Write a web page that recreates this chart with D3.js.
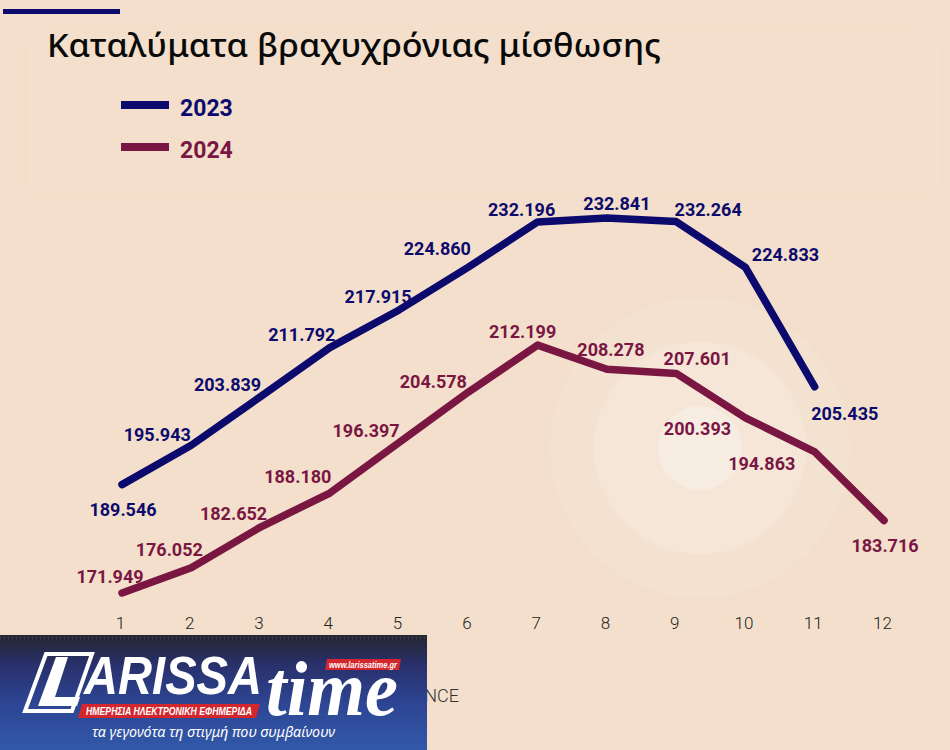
<!DOCTYPE html>
<html>
<head>
<meta charset="utf-8">
<script src="https://cdn.jsdelivr.net/npm/d3@7"></script>
<style>
  html, body { margin: 0; padding: 0; background: #f3dfcb; }
  svg { display: block; }
</style>
</head>
<body>
<svg id="chart" width="950" height="750"></svg>
<script>
// ---------- DATA ----------
const months = [1, 2, 3, 4, 5, 6, 7, 8, 9, 10, 11, 12];
const seriesNames = ["2023", "2024"];
const values2023 = [189.546, 195.943, 203.839, 211.792, 217.915, 224.860, 232.196, 232.841, 232.264, 224.833, 205.435];
const values2024 = [171.949, 176.052, 182.652, 188.180, 196.397, 204.578, 212.199, 208.278, 207.601, 200.393, 194.863, 183.716];
const title = "Καταλύματα βραχυχρόνιας μίσθωσης";
const sourceText = "NCE";

// ---------- LAYOUT (label placement relative to each point) ----------
const labelOffsets2023 = [[1, 31], [-34, -4], [-33, -6], [-28, -7], [-21, -7], [-31, -12], [-16, -6], [10, -8], [32, -6], [40, -6], [30, 33]];
const labelOffsets2024 = [[-12, -10], [-22, -12], [-27, -7], [-32, -10], [-33, -5], [-35, -4], [-15, -7], [4, -13], [21, -8], [-48, 17], [-53, 18], [1, 31]];

const colors = { "2023": "#0c0a6c", "2024": "#7a1642" };
const bg = "#f3dfcb";

const svg = d3.select("#chart");

// background
svg.append("rect").attr("width", 950).attr("height", 750).attr("fill", bg);
// faint panel
svg.append("rect").attr("x", 25).attr("y", 32).attr("width", 918).attr("height", 168)
  .attr("rx", 22).attr("fill", "none").attr("stroke", "#f0dbc7").attr("stroke-width", 1);
// soft circles
const circ = [[150, "#f4e2d1"], [106, "#f5e6d8"], [42, "#f7ece2"]];
circ.forEach(([r, c]) => {
  svg.append("circle").attr("cx", 700).attr("cy", 448).attr("r", r).attr("fill", c);
});

// top accent bar
svg.append("rect").attr("x", 3).attr("y", 9).attr("width", 117).attr("height", 5).attr("fill", colors["2023"]);

// title
svg.append("text").attr("x", 47).attr("y", 57)
  .attr("font-family", "'Noto Sans', sans-serif").attr("font-weight", 500)
  .attr("font-size", 32).attr("fill", "#0a0a0a")
  .attr("textLength", 614).attr("lengthAdjust", "spacingAndGlyphs").text(title);

// legend
seriesNames.forEach((s, i) => {
  const cy = 105 + i * 42;
  svg.append("line").attr("x1", 121).attr("x2", 169).attr("y1", cy).attr("y2", cy)
    .attr("stroke", colors[s]).attr("stroke-width", 8);
  svg.append("text").attr("x", 180).attr("y", cy + 11)
    .attr("font-family", "Roboto, sans-serif").attr("font-weight", 700)
    .attr("font-size", 23).attr("fill", colors[s]).text(s);
});

// scales
const x = d3.scaleLinear().domain([1, 12]).range([122, 884]);
const y = d3.scaleLinear().domain([171.949, 232.841]).range([593, 218]);

// x axis (tick labels only)
const xAxis = d3.axisBottom(x).tickValues(months).tickFormat(d3.format("d")).tickSize(0).tickPadding(0);
const gx = svg.append("g").attr("transform", "translate(-2,617)").call(xAxis);
gx.select(".domain").remove();
gx.selectAll("text")
  .attr("font-family", "Roboto, sans-serif").attr("font-weight", 300)
  .attr("font-size", 17).attr("fill", "#222").attr("dy", "0.71em");

// lines
const line = d3.line().x((d, i) => x(months[i])).y(d => y(d)).curve(d3.curveLinear);
const series = [
  { name: "2023", values: values2023, offsets: labelOffsets2023 },
  { name: "2024", values: values2024, offsets: labelOffsets2024 }
];
series.forEach(s => {
  svg.append("path").datum(s.values).attr("d", line)
    .attr("fill", "none").attr("stroke", colors[s.name]).attr("stroke-width", 7.5)
    .attr("stroke-linecap", "round").attr("stroke-linejoin", "round");
});
const fmt = v => v.toFixed(3);
series.forEach(s => {
  svg.append("g").selectAll("text").data(s.values).join("text")
    .attr("x", (d, i) => x(months[i]) + s.offsets[i][0])
    .attr("y", (d, i) => y(d) + s.offsets[i][1])
    .attr("text-anchor", "middle")
    .attr("font-family", "Roboto, sans-serif").attr("font-weight", 700)
    .attr("font-size", 18).attr("fill", colors[s.name])
    .text(fmt);
});

// source fragment (mostly hidden behind logo)
svg.append("text").attr("x", 459).attr("y", 702).attr("text-anchor", "end")
  .attr("font-family", "Roboto, sans-serif").attr("font-weight", 300)
  .attr("font-size", 18).attr("fill", "#333").text(sourceText);

// ---------- LOGO ----------
const defs = svg.append("defs");
const grad = defs.append("linearGradient").attr("id", "logoGrad").attr("x1", 0).attr("y1", 0).attr("x2", 0).attr("y2", 1);
grad.append("stop").attr("offset", "0%").attr("stop-color", "#24262f");
grad.append("stop").attr("offset", "25%").attr("stop-color", "#29306a");
grad.append("stop").attr("offset", "60%").attr("stop-color", "#2d4594");
grad.append("stop").attr("offset", "100%").attr("stop-color", "#3259a9");
const logo = svg.append("g");
logo.append("rect").attr("x", 0).attr("y", 635).attr("width", 427).attr("height", 115).attr("fill", "url(#logoGrad)");
logo.append("line").attr("x1", 0).attr("x2", 427).attr("y1", 638).attr("y2", 638)
  .attr("stroke", "#555a66").attr("stroke-width", 1).attr("stroke-dasharray", "1,3");
// L frame
logo.append("path").attr("d", "M46,654 L92,654 L72,711 L25,711 Z").attr("fill", "none")
  .attr("stroke", "#fff").attr("stroke-width", 4);
logo.append("path").attr("d", "M56,657 L68,657 L55,697 L80,697 L77,706 L38,706 Z").attr("fill", "#fff");
logo.append("text").attr("x", 84).attr("y", 694)
  .attr("font-family", "'Liberation Sans', Arial, sans-serif").attr("font-weight", 700).attr("font-style", "italic")
  .attr("font-size", 54).attr("fill", "#fff").attr("textLength", 178).attr("lengthAdjust", "spacingAndGlyphs").text("ARISSA");
// red banner
logo.append("path").attr("d", "M82,704 L260,704 L256,718 L78,718 Z").attr("fill", "#d3262d");
logo.append("text").attr("x", 86).attr("y", 715)
  .attr("font-family", "'Liberation Sans', Arial, sans-serif").attr("font-weight", 700).attr("font-style", "italic")
  .attr("font-size", 11).attr("fill", "#fff").attr("textLength", 166).attr("lengthAdjust", "spacingAndGlyphs")
  .text("ΗΜΕΡΗΣΙΑ ΗΛΕΚΤΡΟΝΙΚΗ ΕΦΗΜΕΡΙΔΑ");
// time
logo.append("text").attr("x", 266).attr("y", 715)
  .attr("font-family", "'Liberation Serif', 'Times New Roman', serif").attr("font-weight", 700).attr("font-style", "italic")
  .attr("font-size", 78).attr("fill", "#fff").attr("textLength", 132).attr("lengthAdjust", "spacingAndGlyphs").text("time");
// url banner
logo.append("path").attr("d", "M327,659 L401,659 L399,670 L325,670 Z").attr("fill", "#d3262d");
logo.append("text").attr("x", 329).attr("y", 668)
  .attr("font-family", "'Liberation Sans', Arial, sans-serif").attr("font-weight", 700).attr("font-style", "italic")
  .attr("font-size", 8.5).attr("fill", "#fff").attr("textLength", 68).attr("lengthAdjust", "spacingAndGlyphs")
  .text("www.larissatime.gr");
// tagline
logo.append("text").attr("x", 92).attr("y", 737)
  .attr("font-family", "'Noto Sans', sans-serif").attr("font-style", "italic")
  .attr("font-size", 15).attr("fill", "#fff").attr("textLength", 243).attr("lengthAdjust", "spacingAndGlyphs")
  .text("τα γεγονότα τη στιγμή που συμβαίνουν");
</script>
</body>
</html>
